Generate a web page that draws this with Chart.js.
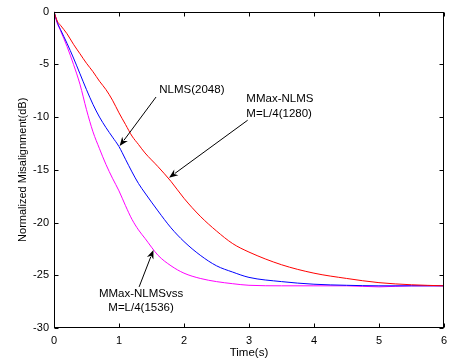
<!DOCTYPE html>
<html>
<head>
<meta charset="utf-8">
<script src="https://cdn.jsdelivr.net/npm/chart.js@4.4.0/dist/chart.umd.min.js"></script>
<style>
  html, body { margin: 0; padding: 0; background: #fff; }
  #wrap { width: 453px; height: 362px; }
</style>
</head>
<body>
<div id="wrap"><canvas id="chart" width="453" height="362"></canvas></div>
<script>
/* Misalignment curves: NLMS vs MMax-NLMS variants */

// --- Data ---
const times = [0, 0.05, 0.1, 0.2, 0.3, 0.4, 0.5, 0.6, 0.7, 0.8, 0.9, 1.0, 1.1, 1.2, 1.3, 1.4,
               1.6, 1.8, 2.0, 2.25, 2.5, 2.75, 3.0, 3.5, 4.0, 4.5, 5.0, 5.5, 6.0];

const mmaxVals = [0, -0.9, -1.3, -2.1, -3.1, -4.0, -4.9, -5.7, -6.6, -7.4, -8.4, -9.6, -10.7, -11.8, -12.6, -13.4,
                  -14.7, -16.1, -17.7, -19.4, -20.8, -22.0, -22.8, -24.0, -24.8, -25.3, -25.7, -25.9, -26.0];

const nlmsVals = [0, -1.0, -1.7, -3.0, -4.4, -5.9, -7.4, -8.8, -10.0, -11.0, -11.9, -12.8, -14.0, -15.2, -16.3, -17.2,
                  -18.9, -20.5, -21.8, -23.1, -24.1, -24.7, -25.2, -25.6, -25.85, -25.95, -26.0, -26.0, -26.0];

const vssVals = [0, -1.1, -1.8, -3.3, -5.0, -6.9, -9.3, -11.4, -13.0, -14.5, -15.8, -17.0, -18.4, -19.7, -20.7, -21.5,
                 -23.1, -24.1, -24.8, -25.3, -25.6, -25.8, -25.95, -26.0, -26.0, -26.0, -26.1, -26.0, -26.0];

const xTicks = [0, 1, 2, 3, 4, 5, 6];
const yTicks = [0, -5, -10, -15, -20, -25, -30];

// Annotation texts and arrows, in data units (time, dB)
const notes = [
    { lines: ['NLMS(2048)'], x: 1.62, y: -7.45, align: 'left' },
    { lines: ['MMax-NLMS', 'M=L/4(1280)'], x: 2.96, y: -8.3, align: 'left' },
    { lines: ['MMax-NLMSvss', 'M=L/4(1536)'], x: 1.34, y: -26.75, align: 'center' },
];
const arrows = [
    { from: [1.57, -8.1], to: [1.01, -12.75] },
    { from: [2.98, -10.3], to: [1.77, -15.75] },
    { from: [1.31, -26.1], to: [1.53, -22.6] },
];

const FONT = 'Arial, "Liberation Sans", sans-serif';

// --- Helpers ---
function series(vals) {
    return times.map((t, i) => ({ x: t, y: vals[i] }));
}

function line(label, vals, color) {
    return {
        label: label,
        data: series(vals),
        borderColor: color,
        borderWidth: 1,
        pointRadius: 0,
        cubicInterpolationMode: 'monotone',
        fill: false,
    };
}

// Box, inward ticks, arrows and labels
const framePlugin = {
    id: 'frame',
    afterDatasetsDraw(chart) {
        const { ctx, chartArea: a, scales: { x, y } } = chart;
        const L = Math.round(a.left) + 0.5, R = Math.round(a.right) - 0.5;
        const T = Math.round(a.top) + 0.5, B = Math.round(a.bottom) - 0.5;
        ctx.save();
        ctx.strokeStyle = '#000';
        ctx.lineWidth = 1;
        ctx.strokeRect(L, T, R - L, B - T);
        ctx.beginPath();
        xTicks.forEach(v => {
            const px = Math.round(x.getPixelForValue(v)) + 0.5;
            ctx.moveTo(px, B); ctx.lineTo(px, B - 4);
            ctx.moveTo(px, T); ctx.lineTo(px, T + 4);
        });
        yTicks.forEach(v => {
            const py = Math.round(y.getPixelForValue(v)) + 0.5;
            ctx.moveTo(L, py); ctx.lineTo(L + 4, py);
            ctx.moveTo(R, py); ctx.lineTo(R - 4, py);
        });
        ctx.stroke();

        // arrows
        arrows.forEach(ar => {
            const x0 = x.getPixelForValue(ar.from[0]), y0 = y.getPixelForValue(ar.from[1]);
            const x1 = x.getPixelForValue(ar.to[0]), y1 = y.getPixelForValue(ar.to[1]);
            const ang = Math.atan2(y1 - y0, x1 - x0);
            const len = 9, half = 3.5;
            ctx.beginPath();
            ctx.moveTo(x0, y0);
            ctx.lineTo(x1 - Math.cos(ang) * len * 0.8, y1 - Math.sin(ang) * len * 0.8);
            ctx.stroke();
            ctx.beginPath();
            ctx.moveTo(x1, y1);
            ctx.lineTo(x1 - Math.cos(ang) * len + Math.sin(ang) * half, y1 - Math.sin(ang) * len - Math.cos(ang) * half);
            ctx.lineTo(x1 - Math.cos(ang) * len * 0.7, y1 - Math.sin(ang) * len * 0.7);
            ctx.lineTo(x1 - Math.cos(ang) * len - Math.sin(ang) * half, y1 - Math.sin(ang) * len + Math.cos(ang) * half);
            ctx.closePath();
            ctx.fillStyle = '#000';
            ctx.fill();
        });

        // labels
        ctx.fillStyle = '#000';
        ctx.font = '11.5px ' + FONT;
        ctx.textBaseline = 'middle';
        notes.forEach(n => {
            ctx.textAlign = n.align;
            const px = x.getPixelForValue(n.x);
            const py = y.getPixelForValue(n.y);
            n.lines.forEach((s, i) => ctx.fillText(s, px, py + i * 14.5));
        });
        ctx.restore();
    }
};

// --- Chart ---
new Chart(document.getElementById('chart'), {
    type: 'line',
    data: {
        datasets: [
            line('MMax-NLMS M=L/4(1280)', mmaxVals, '#ff0000'),
            line('NLMS(2048)', nlmsVals, '#0000ff'),
            line('MMax-NLMSvss M=L/4(1536)', vssVals, '#ff00ff'),
        ]
    },
    options: {
        responsive: false,
        animation: false,
        layout: { padding: { top: 11, right: 6, left: 0, bottom: 0 } },
        plugins: {
            legend: { display: false },
            tooltip: { enabled: false },
        },
        scales: {
            x: {
                type: 'linear',
                min: 0, max: 6,
                afterBuildTicks: s => { s.ticks = xTicks.map(v => ({ value: v })); },
                afterFit: s => { s.height = 34; },
                grid: { display: false, drawTicks: false },
                border: { display: false },
                ticks: { color: '#000', padding: 6, font: { size: 11, family: FONT } },
                title: {
                    display: true, text: 'Time(s)', color: '#000',
                    font: { size: 11.5, family: FONT }, padding: { top: 0, bottom: 2.4 }
                }
            },
            y: {
                min: -30, max: 0,
                afterBuildTicks: s => { s.ticks = yTicks.map(v => ({ value: v })); },
                afterFit: s => { s.width = 54; },
                grid: { display: false, drawTicks: false },
                border: { display: false },
                ticks: { color: '#000', padding: 5, font: { size: 11, family: FONT } },
                title: {
                    display: true, text: 'Normalized Misalignment(dB)', color: '#000',
                    font: { size: 11, family: FONT }, padding: { top: 16, bottom: 0 }
                }
            }
        }
    },
    plugins: [framePlugin]
});
</script>
</body>
</html>
